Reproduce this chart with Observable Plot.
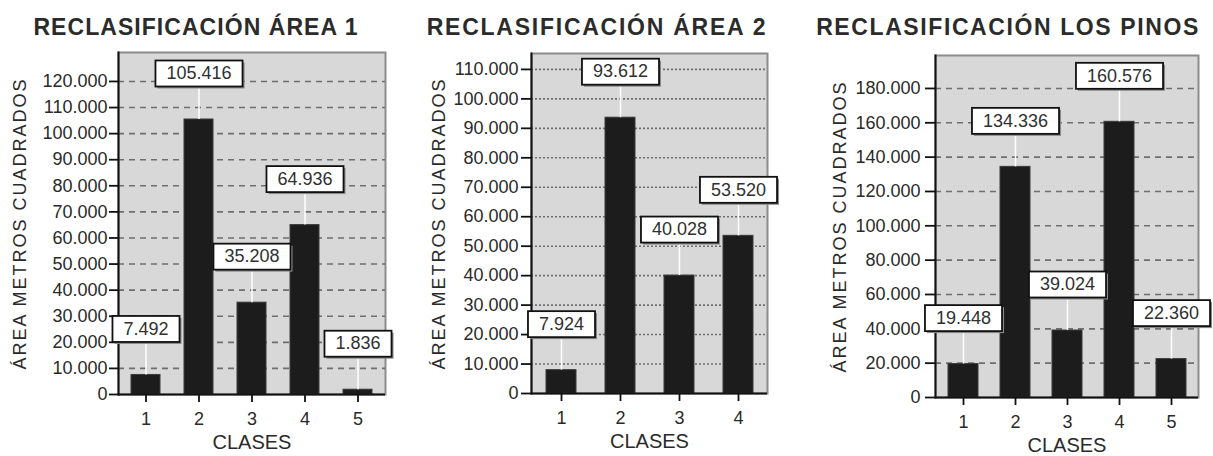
<!DOCTYPE html>
<html>
<head>
<meta charset="utf-8">
<script src="https://cdn.jsdelivr.net/npm/d3@7"></script>
<script src="https://cdn.jsdelivr.net/npm/@observablehq/plot@0.6"></script>
<style>
  body { margin: 0; background: #fff; }
  #root { position: relative; width: 1213px; height: 456px; overflow: hidden; font-family: "Liberation Sans", Arial, sans-serif; }
  .title { position: absolute; width: 460px; text-align: center; font-weight: bold; font-size: 23px; line-height: 23px; color: #2b2b2b; white-space: nowrap; }
  .chart { position: absolute; top: 45px; overflow: visible; }
</style>
</head>
<body>
<div id="root"></div>
<script>
// ---- data ----
const titles = ["RECLASIFICACIÓN ÁREA 1", "RECLASIFICACIÓN ÁREA 2", "RECLASIFICACIÓN LOS PINOS"];
const yTitle = "ÁREA METROS CUADRADOS";
const xTitle = "CLASES";

const classes1 = [1, 2, 3, 4, 5];
const area1 = [7492, 105416, 35208, 64936, 1836];
const ticks1 = [0, 10000, 20000, 30000, 40000, 50000, 60000, 70000, 80000, 90000, 100000, 110000, 120000];

const classes2 = [1, 2, 3, 4];
const area2 = [7924, 93612, 40028, 53520];
const ticks2 = [0, 10000, 20000, 30000, 40000, 50000, 60000, 70000, 80000, 90000, 100000, 110000];

const classes3 = [1, 2, 3, 4, 5];
const pinos = [19448, 134336, 39024, 160576, 22360];
const ticks3 = [0, 20000, 40000, 60000, 80000, 100000, 120000, 140000, 160000, 180000];

// ---- helpers ----
const fmt = d => d3.format(",")(d).replace(/,/g, ".");
const root = document.getElementById("root");

const configs = [
  {classes: classes1, values: area1, ticks: ticks1, title: titles[0], titleX: 196, titleLS: 1.05,
   left: 0, width: 410, height: 411, mL: 118, mR: 25, mT: 7, mB: 62, yMax: 131100,
   pad: 0.45, dash: "6,5", tickSize: 9, tickPad: 2, yDx: -98},
  {classes: classes2, values: area2, ticks: ticks2, title: titles[1], titleX: 597, titleLS: 1.75,
   left: 410, width: 390, height: 411, mL: 121, mR: 33, mT: 8, mB: 63, yMax: 115400,
   pad: 0.5, dash: "2,2", tickSize: 10, tickPad: 3, yDx: -92},
  {classes: classes3, values: pinos, ticks: ticks3, title: titles[2], titleX: 1008, titleLS: 1.6,
   left: 800, width: 413, height: 411, mL: 135, mR: 15, mT: 10, mB: 59, yMax: 199200,
   pad: 0.43, dash: "6,5", tickSize: 10, tickPad: 5, yDx: -95}
];

for (const c of configs) {
  const data = c.classes.map((k, i) => ({cls: k, v: c.values[i]}));

  const t = document.createElement("div");
  t.className = "title";
  t.textContent = c.title;
  t.style.left = (c.titleX - 230) + "px";
  t.style.top = "15.5px";
  t.style.letterSpacing = c.titleLS + "px";
  root.appendChild(t);

  const plot = Plot.plot({
    width: c.width,
    height: c.height,
    marginLeft: c.mL,
    marginRight: c.mR,
    marginTop: c.mT,
    marginBottom: c.mB,
    style: {fontFamily: '"Liberation Sans", Arial, sans-serif', fontSize: "18px", background: "transparent", color: "#222", overflow: "visible"},
    x: {type: "band", domain: c.classes, paddingInner: c.pad, paddingOuter: c.pad / 2, axis: null},
    y: {domain: [0, c.yMax], axis: null},
    marks: [
      Plot.frame({fill: "#d8d8d8", stroke: "#8c8c8c", strokeWidth: 2}),
      Plot.ruleY(c.ticks.filter(d => d > 0), {stroke: "#6e6e6e", strokeWidth: 1.6, strokeDasharray: c.dash}),
      Plot.barY(data, {x: "cls", y: "v", fill: "#1c1c1c", stroke: "#3a3a3a", strokeWidth: 1}),
      Plot.ruleX(data, {x: "cls", y1: "v", y2: "v", insetTop: -33, stroke: "#fff", strokeWidth: 1.5}),
      Plot.frame({anchor: "left", stroke: "#111", strokeWidth: 2}),
      Plot.ruleY([0], {stroke: "#111", strokeWidth: 2}),
      Plot.axisY(c.ticks, {tickSize: c.tickSize, tickPadding: c.tickPad, tickFormat: fmt, label: null, fontSize: 18, stroke: "#111", strokeWidth: 1.8, fill: "#2a2a2a"}),
      Plot.axisX(c.classes, {tickSize: 8, tickPadding: 10, label: null, fontSize: 18, stroke: "#111", strokeWidth: 1.8, fill: "#2a2a2a"}),
      Plot.text([yTitle], {frameAnchor: "left", textAnchor: "middle", lineAnchor: "middle", rotate: -90, dx: c.yDx, fontSize: 18, fill: "#2a2a2a"}),
      Plot.text([xTitle], {frameAnchor: "bottom", textAnchor: "middle", lineAnchor: "middle", dy: 48, fontSize: 20, fill: "#2a2a2a"}),
      Plot.text(data, {x: "cls", y: "v", text: d => fmt(d.v), dy: -46, fontSize: 18, fill: "#303030"})
    ]
  });
  plot.classList.add("chart");
  plot.style.left = c.left + "px";
  root.appendChild(plot);

  // spaced-out y-axis title, as in the reference
  for (const el of plot.querySelectorAll("text")) {
    if (el.textContent === yTitle) el.style.letterSpacing = "2px";
  }

  // label boxes behind the value labels (last mark group)
  const groups = plot.querySelectorAll(":scope > g");
  const g = groups[groups.length - 1];
  const NS = "http://www.w3.org/2000/svg";
  for (const txt of Array.from(g.querySelectorAll("text"))) {
    const bb = txt.getBBox();
    const w = bb.width + 22, h = 26;
    const x = bb.x + bb.width / 2 - w / 2;
    const tr = txt.getAttribute("transform");
    const shadow = document.createElementNS(NS, "rect");
    shadow.setAttribute("x", x + 2); shadow.setAttribute("y", -h / 2 + 2);
    shadow.setAttribute("width", w); shadow.setAttribute("height", h);
    shadow.setAttribute("fill", "#8a8a8a");
    const box = document.createElementNS(NS, "rect");
    box.setAttribute("x", x); box.setAttribute("y", -h / 2);
    box.setAttribute("width", w); box.setAttribute("height", h);
    box.setAttribute("fill", "#fff"); box.setAttribute("stroke", "#111"); box.setAttribute("stroke-width", 1.8);
    if (tr) { shadow.setAttribute("transform", tr); box.setAttribute("transform", tr); }
    else {
      const tx = txt.getAttribute("x") || 0, ty = txt.getAttribute("y") || 0;
      shadow.setAttribute("transform", `translate(${tx},${ty})`);
      box.setAttribute("transform", `translate(${tx},${ty})`);
    }
    g.insertBefore(shadow, txt);
    g.insertBefore(box, txt);
  }
}
</script>
</body>
</html>
